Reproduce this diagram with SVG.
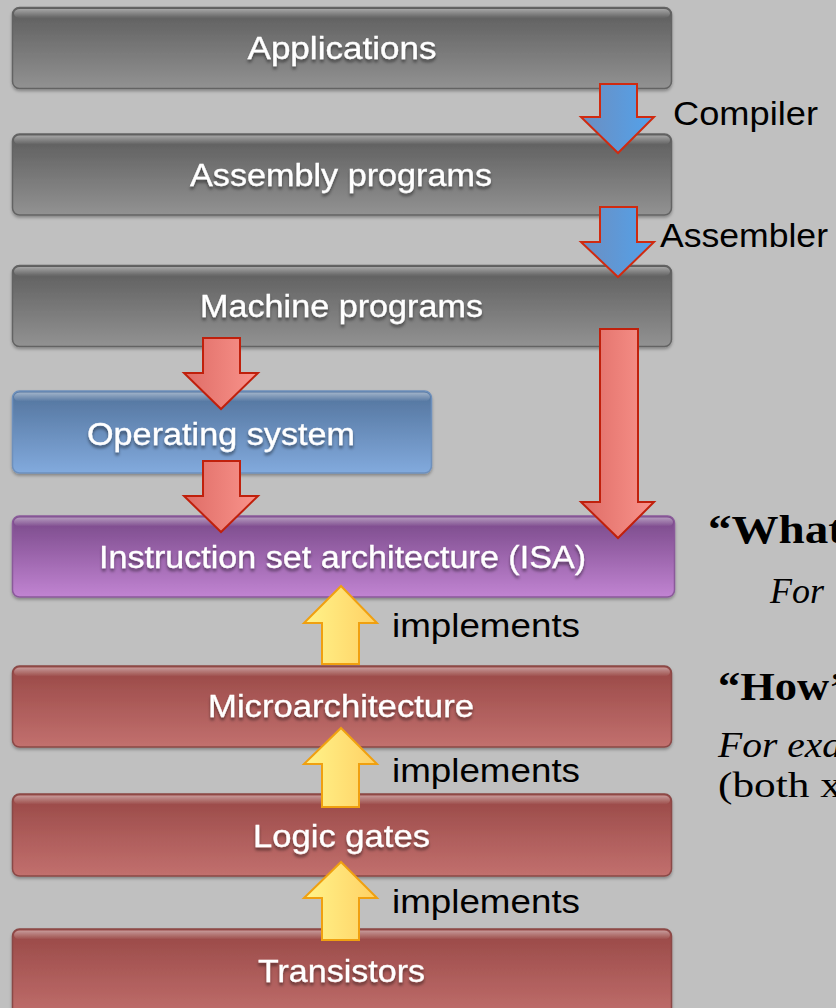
<svg xmlns="http://www.w3.org/2000/svg" width="836" height="1008" viewBox="0 0 836 1008">
<defs>
<linearGradient id="gGray" x1="0" y1="0" x2="0" y2="1"><stop offset="0" stop-color="#5c5c5c"/><stop offset="1" stop-color="#929292"/></linearGradient>
<linearGradient id="gBlue" x1="0" y1="0" x2="0" y2="1"><stop offset="0" stop-color="#52739c"/><stop offset="1" stop-color="#82aadd"/></linearGradient>
<linearGradient id="gPurple" x1="0" y1="0" x2="0" y2="1"><stop offset="0" stop-color="#784888"/><stop offset="1" stop-color="#c184d2"/></linearGradient>
<linearGradient id="gRed" x1="0" y1="0" x2="0" y2="1"><stop offset="0" stop-color="#984846"/><stop offset="1" stop-color="#c2706e"/></linearGradient>
<linearGradient id="gHi" x1="0" y1="0" x2="0" y2="1"><stop offset="0" stop-color="#fff" stop-opacity="0.45"/><stop offset="1" stop-color="#fff" stop-opacity="0"/></linearGradient>
<linearGradient id="aBlue" x1="0" y1="0" x2="1" y2="0"><stop offset="0" stop-color="#6c8ec0"/><stop offset="1" stop-color="#52a2ec"/></linearGradient>
<linearGradient id="aRed" x1="0" y1="0" x2="1" y2="0"><stop offset="0" stop-color="#de6c66"/><stop offset="1" stop-color="#fa948c"/></linearGradient>
<linearGradient id="aYel" x1="0" y1="0" x2="1" y2="0"><stop offset="0" stop-color="#fff48a"/><stop offset="1" stop-color="#ffd064"/></linearGradient>
<filter id="boxSh" x="-5%" y="-20%" width="110%" height="150%"><feDropShadow dx="0" dy="2" stdDeviation="1.5" flood-color="#000" flood-opacity="0.3"/></filter>
<filter id="txtSh" x="-10%" y="-30%" width="120%" height="170%"><feDropShadow dx="0" dy="3" stdDeviation="1.5" flood-color="#000" flood-opacity="0.45"/></filter>
</defs>
<style>
.box{stroke-width:1.5}
.gray{fill:url(#gGray);stroke:#636363}
.blue{fill:url(#gBlue);stroke:#6e90bc}
.purple{fill:url(#gPurple);stroke:#8a5a9a}
.red{fill:url(#gRed);stroke:#8a4846}
.hi{fill:url(#gHi)}
.lbl{font-family:"Liberation Sans",Arial,sans-serif;font-size:32px;fill:#fff;text-anchor:middle;filter:url(#txtSh);stroke:#fff;stroke-width:0.3}
.side{font-family:"Liberation Sans",Arial,sans-serif;font-size:33px;fill:#000}
.ser{font-family:"Liberation Serif","Times New Roman",serif;fill:#000}
.ab{fill:url(#aBlue);stroke:#d02a10;stroke-width:2;stroke-linejoin:miter}
.ar{fill:url(#aRed);stroke:#c0200c;stroke-width:2;stroke-linejoin:miter}
.ay{fill:url(#aYel);stroke:#f0a010;stroke-width:2;stroke-linejoin:miter}
</style>
<rect width="836" height="1008" fill="#c0c0c0"/>

<g id="applications" filter="url(#boxSh)">
<rect class="box gray" x="12.5" y="7.5" width="659" height="81" rx="7"/>
<rect class="hi" x="14" y="9" width="656" height="9" rx="6"/>
<text class="lbl" x="342" y="59" textLength="189" lengthAdjust="spacingAndGlyphs">Applications</text>
</g>
<g id="assembly" filter="url(#boxSh)">
<rect class="box gray" x="12.5" y="134" width="659" height="81" rx="7"/>
<rect class="hi" x="14" y="135.5" width="656" height="9" rx="6"/>
<text class="lbl" x="341" y="186" textLength="302" lengthAdjust="spacingAndGlyphs">Assembly programs</text>
</g>
<g id="machine" filter="url(#boxSh)">
<rect class="box gray" x="12.5" y="265.5" width="659" height="81" rx="7"/>
<rect class="hi" x="14" y="267" width="656" height="9" rx="6"/>
<text class="lbl" x="341.5" y="317" textLength="283" lengthAdjust="spacingAndGlyphs">Machine programs</text>
</g>
<g id="os" filter="url(#boxSh)">
<rect class="box blue" x="12.5" y="391" width="419" height="82" rx="7"/>
<rect class="hi" x="14" y="392.5" width="416" height="9" rx="6"/>
<text class="lbl" x="221" y="445" textLength="268" lengthAdjust="spacingAndGlyphs">Operating system</text>
</g>
<g id="isa" filter="url(#boxSh)">
<rect class="box purple" x="12.5" y="516" width="662" height="81" rx="7"/>
<rect class="hi" x="14" y="517.5" width="659" height="9" rx="6"/>
<text class="lbl" x="342.5" y="568" textLength="487" lengthAdjust="spacingAndGlyphs">Instruction set architecture (ISA)</text>
</g>
<g id="microarchitecture" filter="url(#boxSh)">
<rect class="box red" x="12.5" y="666" width="659" height="81" rx="7"/>
<rect class="hi" x="14" y="667.5" width="656" height="9" rx="6"/>
<text class="lbl" x="341" y="717" textLength="266" lengthAdjust="spacingAndGlyphs">Microarchitecture</text>
</g>
<g id="logic" filter="url(#boxSh)">
<rect class="box red" x="12.5" y="794" width="659" height="82" rx="7"/>
<rect class="hi" x="14" y="795.5" width="656" height="9" rx="6"/>
<text class="lbl" x="341.5" y="847" textLength="177" lengthAdjust="spacingAndGlyphs">Logic gates</text>
</g>
<g id="transistors" filter="url(#boxSh)">
<rect class="box red" x="12.5" y="929" width="659" height="92" rx="7"/>
<rect class="hi" x="14" y="930.5" width="656" height="9" rx="6"/>
<text class="lbl" x="341.5" y="982" textLength="167" lengthAdjust="spacingAndGlyphs">Transistors</text>
</g>

<g id="connectors">
<path class="ab" d="M600,84 H637 V117 H654 L618,153 L581,117 H600 Z"/>
<path class="ab" d="M600,207 H637 V242 H654 L618,277 L581,242 H600 Z"/>
<path class="ar" d="M203,338 H240 V373 H258 L221,409 L184,373 H203 Z"/>
<path class="ar" d="M203,461 H240 V496 H258 L221,532 L184,496 H203 Z"/>
<path class="ar" d="M600,329 H638 V502 H654 L618,538 L581,502 H600 Z"/>
<path class="ay" d="M341,586 L377,623 H359 V664 H322 V623 H304 Z"/>
<path class="ay" d="M341,728 L377,764 H359 V807 H322 V764 H304 Z"/>
<path class="ay" d="M341,862 L377,898 H359 V940 H322 V898 H304 Z"/>
</g>

<g id="labels">
<text class="side" x="673" y="125" textLength="145" lengthAdjust="spacingAndGlyphs">Compiler</text>
<text class="side" x="660" y="247" textLength="168" lengthAdjust="spacingAndGlyphs">Assembler</text>
<text class="side" x="392" y="637" textLength="188" lengthAdjust="spacingAndGlyphs">implements</text>
<text class="side" x="392" y="782" textLength="188" lengthAdjust="spacingAndGlyphs">implements</text>
<text class="side" x="392" y="913" textLength="188" lengthAdjust="spacingAndGlyphs">implements</text>
</g>

<g id="notes">
<text class="ser" x="708" y="543" font-size="40" font-weight="bold" textLength="136" lengthAdjust="spacingAndGlyphs">“What</text>
<text class="ser" x="770" y="603" font-size="36" font-style="italic">For</text>
<text class="ser" x="718" y="700" font-size="40" font-weight="bold" textLength="126" lengthAdjust="spacingAndGlyphs">“How’</text>
<text class="ser" x="718" y="757" font-size="36" font-style="italic" textLength="124" lengthAdjust="spacingAndGlyphs">For exa</text>
<text class="ser" x="718" y="797" font-size="36" textLength="124" lengthAdjust="spacingAndGlyphs">(both x</text>
</g>
</svg>
